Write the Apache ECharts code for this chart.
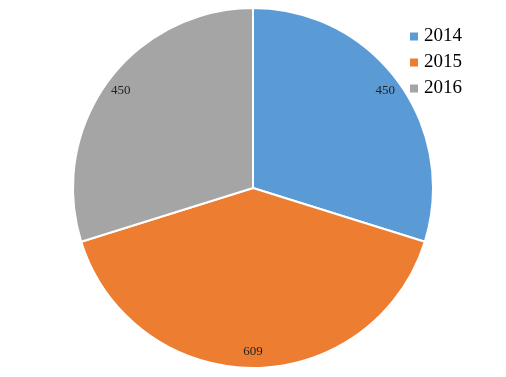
<!DOCTYPE html>
<html>
<head>
<meta charset="utf-8">
<script src="https://cdn.jsdelivr.net/npm/echarts@6/dist/echarts.min.js"></script>
<style>
  html, body { margin: 0; padding: 0; background: #fff; }
  #chart { width: 506px; height: 377px; }
</style>
</head>
<body>
<div id="chart"></div>
<script>
const years = ['2014', '2015', '2016'];
const values = [450, 609, 450];
const colors = ['#5B9BD5', '#ED7D31', '#A5A5A5'];

const chart = echarts.init(document.getElementById('chart'));

const pieData = years.map((y, i) => ({ name: y, value: values[i] }));

const option = {
  animation: false,
  color: colors,
  legend: {
    orient: 'vertical',
    left: 403,
    top: 22,
    itemWidth: 10,
    itemHeight: 10,
    itemGap: 7,
    icon: 'rect',
    textStyle: { fontFamily: 'Liberation Serif', fontSize: 19, color: '#000' },
    data: years
  },
  series: [
    {
      type: 'pie',
      center: [253, 188],
      radius: [0, 180],
      startAngle: 90,
      clockwise: true,
      label: { show: false },
      labelLine: { show: false },
      itemStyle: { borderColor: '#fff', borderWidth: 2 },
      emphasis: { disabled: true },
      data: pieData
    },
    {
      // overlay ring only to place value labels near the rim
      type: 'pie',
      silent: true,
      center: [253, 188],
      radius: [142, 180],
      startAngle: 90,
      clockwise: true,
      itemStyle: { color: 'transparent' },
      label: {
        show: true,
        position: 'inside',
        formatter: '{c}',
        fontFamily: 'Liberation Serif',
        fontSize: 13,
        color: '#222'
      },
      labelLine: { show: false },
      emphasis: { disabled: true },
      data: pieData
    }
  ]
};

chart.setOption(option);
</script>
</body>
</html>
